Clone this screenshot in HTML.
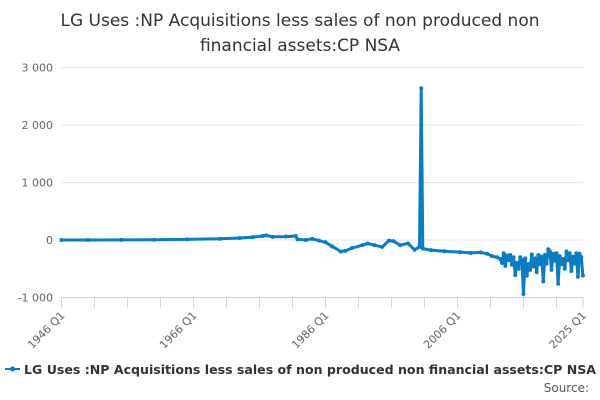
<!DOCTYPE html>
<html><head><meta charset="utf-8">
<style>
body{margin:0;background:#fff;font-family:"DejaVu Sans","Liberation Sans",sans-serif;}
svg{display:block}
</style></head>
<body>
<svg id="chart" width="600" height="400">
<text x="300" y="26" text-anchor="middle" font-size="17" fill="#333">LG Uses :NP Acquisitions less sales of non produced non</text>
<text x="300" y="51" text-anchor="middle" font-size="17" fill="#333">financial assets:CP NSA</text>
<g id="grid"></g><g id="xaxis"></g><g id="series"></g>
<g>
<line x1="5" y1="369" x2="20" y2="369" stroke="#0a7cc1" stroke-width="2"/>
<circle cx="12.5" cy="369" r="2.5" fill="#0a7cc1"/>
<text x="24" y="374" font-size="12.8" font-weight="bold" fill="#333" textLength="572" lengthAdjust="spacingAndGlyphs">LG Uses :NP Acquisitions less sales of non produced non financial assets:CP NSA</text>
</g>
<text x="589" y="392" text-anchor="end" font-size="12" fill="#555">Source:</text>
</svg>
<script>
const yTicks=[3000,2000,1000,0,-1000];
const yTickLabels=["3 000","2 000","1 000","0","-1 000"];
const xTickLabels=["1946 Q1","1966 Q1","1986 Q1","2006 Q1","2025 Q1"];
const xTickYears=[1946,1966,1986,2006,2025];
const years=[1946,1950,1955,1960,1965,1970,1973,1975,1976.5,1977,1978,1980,1981.5,1981.75,1983,1984,1985,1986,1987,1988.3,1989,1990,1991.6,1992.4,1993.4,1994.6,1995.6,1996.3,1997.3,1998.5,1999.5,2000.25,2000.5,2000.75,2002,2004,2006.4,2008,2009.5,2010.5,2011.25,2012,2012.5,2012.75,2013,2013.25,2013.5,2013.75,2014,2014.25,2014.5,2014.75,2015,2015.25,2015.5,2015.75,2016,2016.25,2016.5,2016.75,2017,2017.25,2017.5,2017.75,2018,2018.25,2018.5,2018.75,2019,2019.25,2019.5,2019.75,2020,2020.25,2020.5,2020.75,2021,2021.25,2021.5,2021.75,2022,2022.25,2022.5,2022.75,2023,2023.25,2023.5,2023.75,2024,2024.25,2024.5,2024.75,2025];
const values=[0,0,2,5,10,20,35,50,70,80,55,60,70,10,0,20,-10,-40,-110,-200,-190,-140,-90,-60,-90,-120,-10,-20,-90,-60,-170,-120,2640,-150,-175,-195,-210,-225,-215,-240,-280,-300,-330,-400,-230,-450,-270,-350,-260,-430,-300,-610,-400,-500,-300,-350,-940,-320,-620,-420,-520,-250,-460,-320,-560,-260,-420,-290,-720,-260,-410,-160,-200,-520,-240,-360,-230,-760,-280,-420,-330,-500,-200,-350,-230,-540,-290,-410,-230,-640,-240,-300,-620];
const ns="http://www.w3.org/2000/svg";
const X0=61.5,PXY=6.6,Y0=240,PXV=0.0575;
function xs(y){return X0+(y-1946)*PXY;}
function ys(v){return Y0-v*PXV;}
const grid=document.getElementById('grid');
yTicks.forEach((t,i)=>{
 const l=document.createElementNS(ns,'line');
 
 
 l.setAttribute('x1',X0);l.setAttribute('x2',583);l.setAttribute('y1',ys(t));l.setAttribute('y2',ys(t));
 l.setAttribute('stroke',t===-1000?'#ccd6eb':'#e6e6e6');l.setAttribute('stroke-width',1);
 grid.appendChild(l);
 const tx=document.createElementNS(ns,'text');
 
 
 tx.setAttribute('x',53);tx.setAttribute('y',ys(t)+4);tx.setAttribute('text-anchor','end');
 tx.setAttribute('font-size','11');tx.setAttribute('fill','#666');tx.textContent=yTickLabels[i];
 grid.appendChild(tx);
});
const xa=document.getElementById('xaxis');
for(let y=1946;y<=2025;y+=5){
 const l=document.createElementNS(ns,'line');
 
 
 const x=xs(y);
 l.setAttribute('x1',x);l.setAttribute('x2',x);l.setAttribute('y1',298);l.setAttribute('y2',308);
 l.setAttribute('stroke','#ccd6eb');xa.appendChild(l);
}
const last=document.createElementNS(ns,'line');


last.setAttribute('x1',xs(2025));last.setAttribute('x2',xs(2025));last.setAttribute('y1',298);last.setAttribute('y2',308);last.setAttribute('stroke','#ccd6eb');xa.appendChild(last);
xTickLabels.forEach((s,i)=>{
 const x=xs(xTickYears[i]);
 const tx=document.createElementNS(ns,'text');
 
 
 tx.setAttribute('x',x+4);tx.setAttribute('y',316);tx.setAttribute('text-anchor','end');
 tx.setAttribute('font-size','11');tx.setAttribute('fill','#666');
 tx.setAttribute('transform','rotate(-45 '+(x+4)+' 316)');tx.textContent=s;xa.appendChild(tx);
});
const sg=document.getElementById('series');
const p=document.createElementNS(ns,'path');


p.setAttribute('d',years.map((y,i)=>(i?'L':'M')+xs(y).toFixed(1)+' '+ys(values[i]).toFixed(1)).join(' '));
p.setAttribute('fill','none');p.setAttribute('stroke','#0a7cc1');p.setAttribute('stroke-width','3');p.setAttribute('stroke-linejoin','round');
sg.appendChild(p);
years.forEach((y,i)=>{
 const c=document.createElementNS(ns,'circle');
 
 
 c.setAttribute('cx',xs(y));c.setAttribute('cy',ys(values[i]));c.setAttribute('r',2);c.setAttribute('fill','#0a7cc1');
 sg.appendChild(c);
});
</script>
</body></html>
